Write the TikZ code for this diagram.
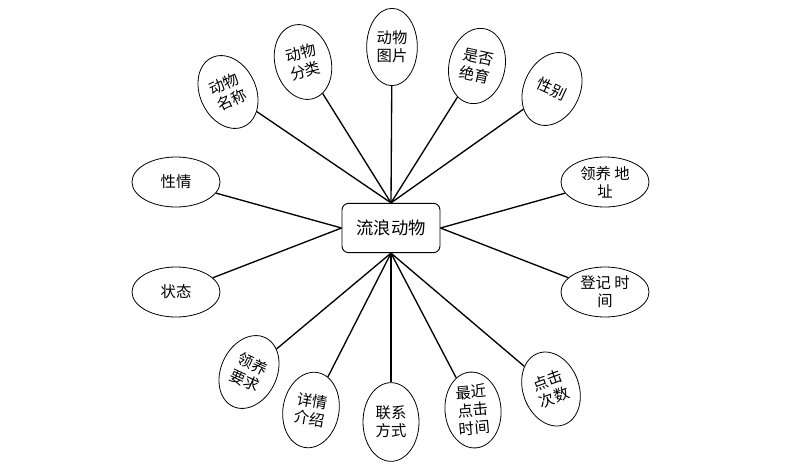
\documentclass[tikz,border=0pt]{standalone}
\usepackage{fontspec}
\setmainfont{Noto Sans CJK SC}
\usetikzlibrary{shapes.geometric}
\begin{document}
\begin{tikzpicture}[x=0.75pt,y=-0.75pt,
  attr/.style={ellipse,draw,line width=0.6pt,minimum width=42pt,minimum height=57pt,inner sep=0pt,align=center,font=\fontsize{11.5}{13.5}\selectfont},
  hattr/.style={ellipse,draw,line width=0.6pt,minimum width=66pt,minimum height=37.5pt,inner sep=0pt,align=center,font=\fontsize{11.5}{13.5}\selectfont},
  entity/.style={rectangle,rounded corners=5pt,draw,line width=0.7pt,minimum width=73.5pt,minimum height=37pt,inner sep=0pt,font=\fontsize{13}{15}\selectfont},
  link/.style={line width=1pt}]
\useasboundingbox (0,0) rectangle (800,475);
\node[entity] (c) at (391,228) {流浪动物};
% top
\node[attr,rotate=25] (a1) at (228,92) {动物\\名称};
\node[attr,rotate=15] (a2) at (303,62) {动物\\分类};
\node[attr,minimum width=38pt,minimum height=58pt] (a3) at (392,47) {动物\\图片};
\node[attr,rotate=-12] (a4) at (477,66) {是否\\绝育};
\node[attr,rotate=-25] (a5) at (552,89) {性别};
% sides
\node[hattr] (l1) at (176,182) {性情};
\node[hattr] (l2) at (176,292) {状态};
\node[hattr] (r1) at (605,182) {领养 地\\址};
\node[hattr] (r2) at (605,292) {登记 时\\间};
% bottom
\node[attr,rotate=-25] (b1) at (249,372) {领养\\要求};
\node[attr,rotate=-10] (b2) at (311,410) {详情\\介绍};
\node[attr,minimum height=59pt] (b3) at (391,422) {联系\\方式};
\node[attr,rotate=5] (b4) at (473,410) {最近\\点击\\时间};
\node[attr,rotate=20] (b5) at (551,389) {点击\\次数};
% links
\foreach \n in {a1,a2,a3,a4,a5} \draw[link] (c.north) -- (\n);
\foreach \n in {b1,b2,b3,b4,b5} \draw[link] (c.south) -- (\n);
\foreach \n in {l1,l2} \draw[link] (c.west) -- (\n);
\foreach \n in {r1,r2} \draw[link] (c.east) -- (\n);
\end{tikzpicture}
\end{document}
